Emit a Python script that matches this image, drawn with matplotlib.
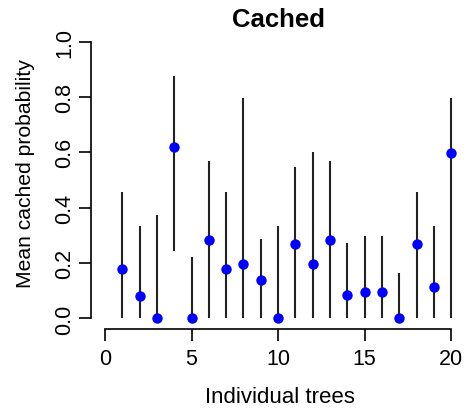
import numpy as np
import matplotlib.pyplot as plt

plt.rcParams['font.family'] = ['Liberation Sans', 'DejaVu Sans']

# Data
trees = np.arange(1, 21)
mean_cached = [0.18, 0.08, 0.0, 0.62, 0.0, 0.285, 0.18, 0.197, 0.14, 0.0,
               0.27, 0.197, 0.285, 0.086, 0.097, 0.097, 0.0, 0.27, 0.112, 0.598]
lower = [0, 0, 0, 0.244, 0, 0, 0, 0, 0, 0,
         0, 0, 0, 0, 0, 0, 0, 0, 0, 0]
upper = [0.457, 0.335, 0.373, 0.875, 0.223, 0.570, 0.456, 0.797, 0.287, 0.334,
         0.546, 0.600, 0.570, 0.271, 0.299, 0.299, 0.164, 0.456, 0.333, 0.797]

fig = plt.figure(figsize=(4.65, 4.1), dpi=100)
ax = fig.add_axes([0.196, 0.194, 0.804, 0.729])

# intervals then points
ax.vlines(trees, lower, upper, color='#222222', linewidth=1.5)
ax.plot(trees, mean_cached, 'o', color='#0000ff', markersize=7.5, markeredgewidth=0)

# R-like axes
ax.set_xlim(-0.8, 20.8)
ax.set_ylim(-0.04, 1.04)
ax.spines['top'].set_visible(False)
ax.spines['right'].set_visible(False)
ax.spines['left'].set_bounds(0, 1)
ax.spines['bottom'].set_bounds(0, 20)
ax.spines['left'].set_linewidth(1.2)
ax.spines['bottom'].set_linewidth(1.2)

ax.set_xticks([0, 5, 10, 15, 20])
ax.set_yticks([0, 0.2, 0.4, 0.6, 0.8, 1.0])
ax.set_yticklabels(['0.0', '0.2', '0.4', '0.6', '0.8', '1.0'])
ax.tick_params(axis='both', length=8.5, width=1.2, labelsize=15.5)
ax.tick_params(axis='x', pad=5)
ax.tick_params(axis='y', pad=3)
for lab in ax.get_yticklabels():
    lab.set_rotation(90)
    lab.set_va('center')

ax.set_title('Cached', fontsize=18.5, fontweight='bold', pad=3)
ax.set_xlabel('Individual trees', fontsize=16, va='center')
ax.set_ylabel('Mean cached probability', fontsize=15.2, va='center')
ax.xaxis.set_label_coords(0.505, -0.225)
ax.yaxis.set_label_coords(-0.176, 0.525)

fig.savefig('out.png', dpi=100)
